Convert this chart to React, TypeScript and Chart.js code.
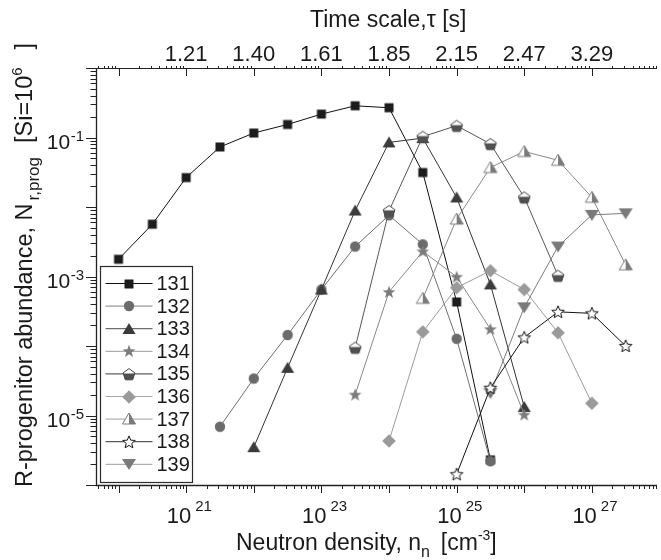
import React, { useEffect, useRef } from "react";
import { Chart, registerables } from "chart.js";

Chart.register(...registerables);

const FONT = '"Liberation Sans", Arial, Helvetica, sans-serif';

// Neutron density grid (cm^-3), half-decade steps
const nDensity = [1e20, 3.16e20, 1e21, 3.16e21, 1e22, 3.16e22, 1e23, 3.16e23, 1e24, 3.16e24, 1e25, 3.16e25, 1e26, 3.16e26, 1e27, 3.16e27];

const isotopes = ["131", "132", "133", "134", "135", "136", "137", "138", "139"];

const a131 = [1.77e-3, 5.65e-3, 2.65e-2, 7.3e-2, 0.116, 0.154, 0.217, 0.286, 0.268, 0.0313, 4.3e-4, 2.3e-6, null, null, null, null];
const a132 = [null, null, null, 6.9e-6, 3.4e-5, 1.44e-4, 6.5e-4, 2.7e-3, 7.6e-3, 2.9e-3, 1.27e-4, 2.2e-6, null, null, null, null];
const a133 = [null, null, null, null, 3.5e-6, 4.85e-5, 6.5e-4, 8.9e-3, 0.085, 0.098, 0.0137, 7.7e-4, 1.33e-5, null, null, null];
const a134 = [null, null, null, null, null, null, null, 2.0e-5, 6.0e-4, 2.3e-3, 9.9e-4, 1.75e-4, 1.03e-5, null, null, null];
const a135 = [null, null, null, null, null, null, null, 9.5e-5, 8.8e-3, 0.103, 0.148, 0.081, 0.0138, 1.03e-3, null, null];
const a136 = [null, null, null, null, null, null, null, null, 4.3e-6, 1.6e-4, 6.9e-4, 1.21e-3, 6.5e-4, 1.55e-4, 1.5e-5, null];
const a137 = [null, null, null, null, null, null, null, null, null, 4.85e-4, 6.7e-3, 0.037, 0.063, 0.047, 0.0138, 1.47e-3];
const a138 = [null, null, null, null, null, null, null, null, null, null, 1.43e-6, 2.5e-5, 1.33e-4, 3.1e-4, 2.95e-4, 1.0e-4];
const a139 = [null, null, null, null, null, null, null, null, null, null, null, 2.1e-5, 3.6e-4, 2.7e-3, 7.7e-3, 8.1e-3];

const seriesValues = [a131, a132, a133, a134, a135, a136, a137, a138, a139];

const topTickValues = [1e21, 1e22, 1e23, 1e24, 1e25, 1e26, 1e27];
const topTickLabels = ["1.21", "1.40", "1.61", "1.85", "2.15", "2.47", "3.29"];
const bottomTickExponents = [21, 23, 25, 27];
const leftTickExponents = [-1, -3, -5];

const markerKinds = ["square", "circle", "triangle", "star", "pentagon", "diamond", "halftri", "openstar", "downtri"];
const lineColors = ["#111111", "#6f6f6f", "#333333", "#888888", "#555555", "#9a9a9a", "#888888", "#111111", "#7c7c7c"];
const legendLineColors = ["#111111", "#808080", "#4a4a4a", "#9a9a9a", "#3a3a3a", "#a8a8a8", "#a0a0a0", "#333333", "#999999"];

function starPath(g: CanvasRenderingContext2D, cx: number, cy: number, R: number, r: number) {
  g.beginPath();
  for (let k = 0; k < 10; k++) {
    const ang = -Math.PI / 2 + (k * Math.PI) / 5;
    const rad = k % 2 === 0 ? R : r;
    const px = cx + rad * Math.cos(ang);
    const py = cy + rad * Math.sin(ang);
    if (k === 0) g.moveTo(px, py);
    else g.lineTo(px, py);
  }
  g.closePath();
}

function makeMarker(kind: string): HTMLCanvasElement {
  const s = 16;
  const c = document.createElement("canvas");
  c.width = s;
  c.height = s;
  const g = c.getContext("2d")!;
  const cx = 8, cy = 8;
  g.lineWidth = 1;
  switch (kind) {
    case "square":
      g.fillStyle = "#1c1c1c";
      g.fillRect(3.5, 3.5, 9, 9);
      break;
    case "circle":
      g.fillStyle = "#6b6b6b";
      g.beginPath();
      g.arc(cx, cy, 5.2, 0, Math.PI * 2);
      g.fill();
      break;
    case "triangle":
      g.fillStyle = "#3b3b3b";
      g.beginPath();
      g.moveTo(cx, cy - 6);
      g.lineTo(cx + 6.5, cy + 5);
      g.lineTo(cx - 6.5, cy + 5);
      g.closePath();
      g.fill();
      break;
    case "star":
      g.fillStyle = "#7c7c7c";
      starPath(g, cx, cy + 0.5, 6.8, 2.8);
      g.fill();
      break;
    case "pentagon": {
      const pts: [number, number][] = [];
      for (let k = 0; k < 5; k++) {
        const ang = -Math.PI / 2 + (k * 2 * Math.PI) / 5;
        pts.push([cx + 6.2 * Math.cos(ang), cy + 0.8 + 6.2 * Math.sin(ang)]);
      }
      const path = () => {
        g.beginPath();
        pts.forEach((p, i) => (i === 0 ? g.moveTo(p[0], p[1]) : g.lineTo(p[0], p[1])));
        g.closePath();
      };
      path();
      g.fillStyle = "#ffffff";
      g.fill();
      g.save();
      path();
      g.clip();
      g.fillStyle = "#505050";
      g.fillRect(0, cy - 0.5, s, s);
      g.restore();
      path();
      g.strokeStyle = "#444444";
      g.stroke();
      break;
    }
    case "diamond":
      g.fillStyle = "#9a9a9a";
      g.beginPath();
      g.moveTo(cx, cy - 6.8);
      g.lineTo(cx + 6.8, cy);
      g.lineTo(cx, cy + 6.8);
      g.lineTo(cx - 6.8, cy);
      g.closePath();
      g.fill();
      break;
    case "halftri": {
      const path = () => {
        g.beginPath();
        g.moveTo(cx, cy - 6);
        g.lineTo(cx + 6.5, cy + 5);
        g.lineTo(cx - 6.5, cy + 5);
        g.closePath();
      };
      path();
      g.fillStyle = "#ffffff";
      g.fill();
      g.save();
      path();
      g.clip();
      g.fillStyle = "#7a7a7a";
      g.fillRect(cx, 0, s, s);
      g.restore();
      path();
      g.strokeStyle = "#7a7a7a";
      g.stroke();
      break;
    }
    case "openstar":
      starPath(g, cx, cy + 0.5, 6.6, 2.9);
      g.fillStyle = "#ffffff";
      g.fill();
      g.strokeStyle = "#151515";
      g.stroke();
      break;
    case "downtri":
      g.fillStyle = "#7a7a7a";
      g.beginPath();
      g.moveTo(cx - 7, cy - 5);
      g.lineTo(cx + 7, cy - 5);
      g.lineTo(cx, cy + 6);
      g.closePath();
      g.fill();
      break;
  }
  return c;
}

type Part = { t: string; size: number; dy?: number; gap?: number };

function drawParts(ctx: CanvasRenderingContext2D, parts: Part[], x: number, y: number) {
  let cx = x;
  ctx.textAlign = "left";
  ctx.textBaseline = "alphabetic";
  for (const p of parts) {
    if (p.gap) { cx += p.gap; continue; }
    ctx.font = `${p.size}px ${FONT}`;
    ctx.fillText(p.t, cx, y + (p.dy || 0));
    cx += ctx.measureText(p.t).width;
  }
}

function makePlugin(markers: HTMLCanvasElement[]) {
  return {
    id: "customAxes",
    afterDraw(chart: any) {
      const ctx: CanvasRenderingContext2D = chart.ctx;
      const { left, right, top, bottom } = chart.chartArea;
      const xs = chart.scales.x;
      const ys = chart.scales.y;
      const ln = (x1: number, y1: number, x2: number, y2: number) => {
        ctx.beginPath();
        ctx.moveTo(x1, y1);
        ctx.lineTo(x2, y2);
        ctx.stroke();
      };
      ctx.save();
      ctx.strokeStyle = "#222222";
      ctx.lineWidth = 1.3;
      ln(left - 0.5, top, left - 0.5, bottom + 1);
      ln(left - 1, bottom + 0.5, right + 3, bottom + 0.5);
      ctx.lineWidth = 1;
      ln(left - 1, top + 0.5, right + 3, top + 0.5);

      // x ticks
      for (let d = 19; d <= 28; d++) {
        for (let m = 1; m <= 9; m++) {
          const px = xs.getPixelForValue(m * Math.pow(10, d));
          if (px < left - 0.5 || px > right + 3) continue;
          const X = Math.round(px) + 0.5;
          const major = m === 1;
          ln(X, bottom, X, bottom + (major ? 8 : 4));
          if (major) ln(X, top, X, top + 8);
          else ln(X, top + 0.5, X, top - 2);
        }
      }
      // y ticks
      for (let d = -7; d <= 0; d++) {
        for (let m = 1; m <= 9; m++) {
          const py = ys.getPixelForValue(m * Math.pow(10, d));
          if (py < top - 0.5 || py > bottom + 0.5) continue;
          const Y = Math.round(py) + 0.5;
          const major = m === 1;
          ln(left, Y, left - (major ? 11 : 6.5), Y);
        }
      }

      ctx.fillStyle = "#1a1a1a";
      // bottom labels
      for (const e of bottomTickExponents) {
        const px = xs.getPixelForValue(Math.pow(10, e));
        ctx.font = `22px ${FONT}`;
        const w10 = ctx.measureText("10").width;
        drawParts(ctx, [{ t: "10", size: 22 }], px + 5 - w10, 523);
        drawParts(ctx, [{ t: String(e), size: 15 }], px + 9, 511);
      }
      // left labels
      for (const e of leftTickExponents) {
        const py = ys.getPixelForValue(Math.pow(10, e));
        ctx.font = `15px ${FONT}`;
        const we = ctx.measureText(String(e)).width;
        ctx.font = `21px ${FONT}`;
        const w10 = ctx.measureText("10").width;
        const ex = 84 - we;
        drawParts(ctx, [{ t: "10", size: 21 }], ex - 0.5 - w10, py + 11.5);
        drawParts(ctx, [{ t: String(e), size: 15 }], ex, py + 3.5);
      }
      // top labels
      ctx.font = `22px ${FONT}`;
      ctx.textAlign = "center";
      ctx.textBaseline = "alphabetic";
      topTickValues.forEach((v, i) => {
        const px = xs.getPixelForValue(v);
        ctx.fillText(topTickLabels[i], px, 61);
      });

      // titles
      drawParts(ctx, [{ t: "Time scale,\u03c4 [s]", size: 23 }], 310, 27);
      drawParts(
        ctx,
        [
          { t: "Neutron density, n", size: 23 },
          { t: "n", size: 16, dy: 7 },
          { t: "", size: 0, gap: 11 },
          { t: "[cm", size: 23 },
          { t: "-3", size: 14, dy: -10 },
          { t: "]", size: 23 },
        ],
        236,
        550
      );
      ctx.save();
      ctx.translate(31.5, 487);
      ctx.rotate(-Math.PI / 2);
      drawParts(
        ctx,
        [
          { t: "R-progenitor abundance, N", size: 23.5 },
          { t: "", size: 0, gap: 3 },
          { t: "r,prog", size: 17, dy: 7 },
          { t: "", size: 0, gap: 14 },
          { t: "[Si=10", size: 23.5 },
          { t: "6", size: 15, dy: -10 },
          { t: "", size: 0, gap: 18 },
          { t: "]", size: 23.5 },
        ],
        0,
        0
      );
      ctx.restore();

      // legend
      const bx = 100.5, by = 266.5, bw = 92, bh = 216;
      ctx.fillStyle = "#ffffff";
      ctx.fillRect(bx, by, bw, bh);
      ctx.strokeStyle = "#2a2a2a";
      ctx.lineWidth = 1.2;
      ctx.strokeRect(bx, by, bw, bh);
      ctx.lineWidth = 1;
      for (let i = 0; i < isotopes.length; i++) {
        const ry = 283.5 + i * 22.6;
        ctx.strokeStyle = legendLineColors[i];
        ln(105.5, ry, 152.5, ry);
        const mk = markers[i];
        ctx.drawImage(mk, Math.round(129 - mk.width / 2), Math.round(ry - mk.height / 2));
        ctx.fillStyle = "#1a1a1a";
        ctx.font = `20px ${FONT}`;
        ctx.textAlign = "left";
        ctx.textBaseline = "middle";
        ctx.fillText(isotopes[i], 156.5, ry + 1);
      }
      ctx.restore();
    },
  };
}

export default function App() {
  const canvasRef = useRef<HTMLCanvasElement | null>(null);

  useEffect(() => {
    const canvas = canvasRef.current;
    if (!canvas) return;
    const markers = markerKinds.map((k) => makeMarker(k));
    const datasets = seriesValues.map((vals, i) => ({
      label: isotopes[i],
      data: nDensity
        .map((x, j) => (vals[j] == null ? null : { x, y: vals[j] as number }))
        .filter((p) => p !== null),
      borderColor: lineColors[i],
      backgroundColor: lineColors[i],
      borderWidth: 1,
      pointStyle: markers[i],
      pointRadius: 6,
      pointHoverRadius: 6,
      tension: 0,
      fill: false,
      order: i === 7 ? 0 : 10 - i,
    }));

    const chart = new Chart(canvas, {
      type: "line",
      data: { datasets: datasets as any },
      options: {
        responsive: false,
        animation: false,
        devicePixelRatio: 1,
        events: [],
        layout: { padding: { left: 97, top: 68, right: 3, bottom: 75 } },
        scales: {
          x: { type: "logarithmic", min: 4.8e19, max: 8.3e27, display: false },
          y: { type: "logarithmic", min: 1e-6, max: 1, display: false },
        },
        plugins: {
          legend: { display: false },
          tooltip: { enabled: false },
        },
      },
      plugins: [makePlugin(markers)],
    });
    return () => chart.destroy();
  }, []);

  return (
    <div style={{ position: "absolute", left: 0, top: 0, width: 661, height: 560, background: "#ffffff" }}>
      <canvas ref={canvasRef} width={661} height={560} />
    </div>
  );
}
